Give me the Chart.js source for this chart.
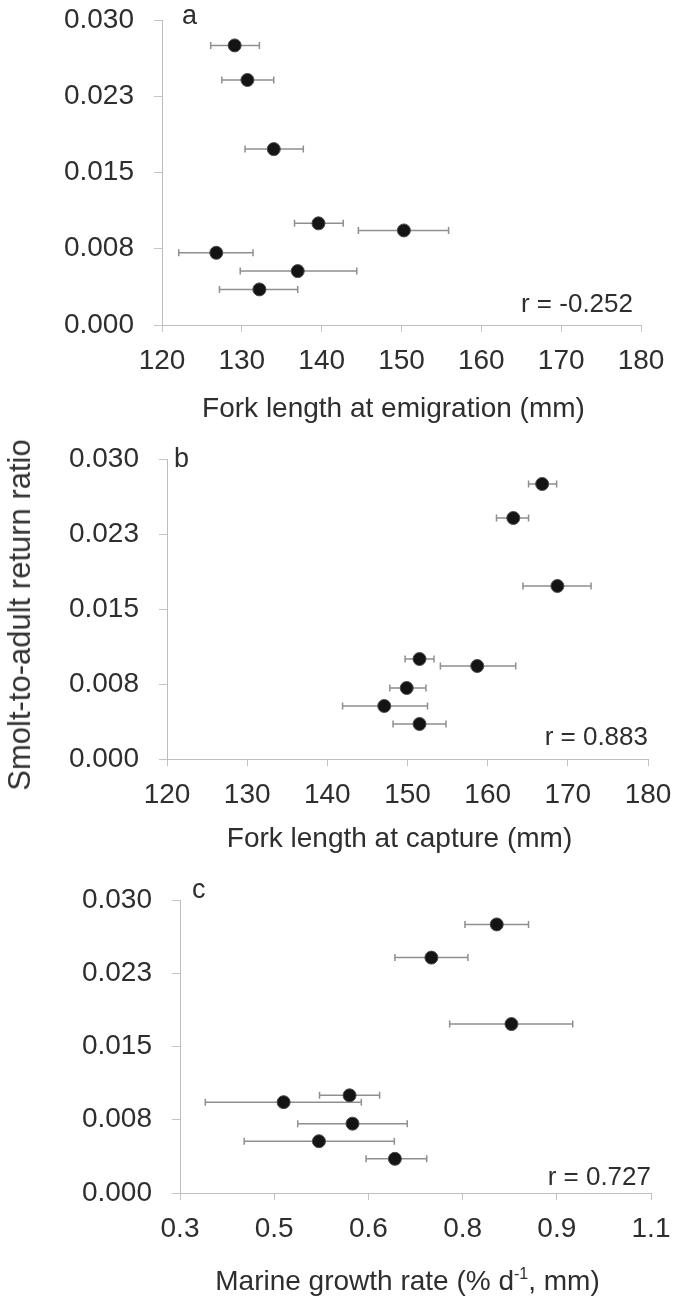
<!DOCTYPE html>
<html>
<head>
<meta charset="utf-8">
<script src="https://cdn.jsdelivr.net/npm/chart.js@4.4.1/dist/chart.umd.min.js"></script>
<style>
  body { margin: 0; background: #fff; }
  #wrap { position: relative; width: 677px; height: 1308px; overflow: hidden; }
  canvas { position: absolute; left: 0; }
  #ytitle {
    position: absolute; left: 20px; top: 615px;
    transform: translate(-50%, -50%) rotate(-90deg);
    white-space: nowrap;
    font: 31px "Liberation Sans", Arial, sans-serif; color: #333;
  }
</style>
</head>
<body>
<div id="wrap">
  <canvas id="chartA" width="677" height="440" style="top:0px"></canvas>
  <canvas id="chartB" width="677" height="430" style="top:440px"></canvas>
  <canvas id="chartC" width="677" height="438" style="top:870px"></canvas>
  <div id="ytitle">Smolt-to-adult return ratio</div>
</div>
<script>
// --- Data ---
// smolt-to-adult return ratio (same years in every panel)
const sarValues = [0.0275, 0.0241, 0.0173, 0.0100, 0.0093, 0.0071, 0.0053, 0.0035];
const yTickLabels = ['0.000', '0.008', '0.015', '0.023', '0.030'];

// a: fork length at emigration (mm), mean and error bar ends
const emigLength = [129.1, 130.7, 134.0, 139.6, 150.3, 126.8, 137.0, 132.2];
const emigLow    = [126.1, 127.5, 130.4, 136.6, 144.6, 122.1, 129.8, 127.2];
const emigHigh   = [132.2, 134.0, 137.7, 142.7, 155.9, 131.4, 144.4, 137.0];

// b: fork length at capture (mm)
const captLength = [166.8, 163.2, 168.7, 151.5, 158.7, 149.9, 147.1, 151.5];
const captLow    = [165.1, 161.1, 164.4, 149.7, 154.1, 147.8, 141.9, 148.2];
const captHigh   = [168.6, 165.1, 172.9, 153.3, 163.5, 152.3, 152.5, 154.8];

// c: marine growth rate (% d-1, mm)
const growthRate = [0.838, 0.727, 0.863, 0.588, 0.476, 0.593, 0.536, 0.665];
const growthLow  = [0.784, 0.665, 0.758, 0.537, 0.343, 0.500, 0.409, 0.616];
const growthHigh = [0.892, 0.789, 0.967, 0.639, 0.608, 0.686, 0.664, 0.719];
const growthTicks = ['0.3', '0.5', '0.6', '0.8', '0.9', '1.1'];

const FONT = '"Liberation Sans", Arial, sans-serif';
const TEXT = '#2e2e2e';

// --- Plugins ---
const errorBars = {
  id: 'errorBars',
  beforeDatasetsDraw(chart, args, opts) {
    const { ctx, scales: { x, y } } = chart;
    const pts = chart.data.datasets[0].data;
    ctx.save();
    ctx.strokeStyle = '#8f8f8f';
    ctx.lineWidth = 1.5;
    opts.low.forEach((lo, i) => {
      const py = y.getPixelForValue(pts[i].y);
      const x1 = x.getPixelForValue(lo);
      const x2 = x.getPixelForValue(opts.high[i]);
      ctx.beginPath();
      ctx.moveTo(x1, py); ctx.lineTo(x2, py);
      ctx.moveTo(x1, py - 3.5); ctx.lineTo(x1, py + 3.5);
      ctx.moveTo(x2, py - 3.5); ctx.lineTo(x2, py + 3.5);
      ctx.stroke();
    });
    ctx.restore();
  }
};

const panelText = {
  id: 'panelText',
  afterDraw(chart, args, opts) {
    const { ctx, chartArea: area } = chart;
    ctx.save();
    ctx.fillStyle = TEXT;
    ctx.textBaseline = 'alphabetic';

    // panel letter
    ctx.font = '27px ' + FONT;
    ctx.textAlign = 'left';
    ctx.fillText(opts.letter, area.left + opts.letterDx, area.top + opts.letterDy);

    // correlation
    ctx.font = '26px ' + FONT;
    ctx.textAlign = 'right';
    ctx.fillText(opts.rText, area.right + opts.rDx, area.bottom + opts.rDy);

    // x title, parts may be superscript
    const big = '28px ' + FONT, small = '16px ' + FONT;
    let total = 0;
    opts.xTitle.forEach(p => { ctx.font = p.sup ? small : big; total += ctx.measureText(p.text).width; });
    let tx = (area.left + area.right) / 2 - 8 - total / 2;
    const ty = area.bottom + opts.titleDy;
    ctx.textAlign = 'left';
    opts.xTitle.forEach(p => {
      ctx.font = p.sup ? small : big;
      ctx.fillText(p.text, tx, p.sup ? ty - 11 : ty);
      tx += ctx.measureText(p.text).width;
    });
    ctx.restore();
  }
};

// --- Chart builder ---
function makePanel(id, cfg) {
  const data = cfg.xs.map((v, i) => ({ x: v, y: sarValues[i] }));
  const axisGrid = { drawOnChartArea: false, drawTicks: true, tickLength: 7, color: '#c4c4c4' };
  const axisBorder = { display: true, color: '#bdbdbd', width: 1, dash: [2, 1] };

  return new Chart(document.getElementById(id), {
    type: 'scatter',
    data: {
      datasets: [{
        data: data,
        pointRadius: 6.5,
        pointHoverRadius: 6.5,
        pointBackgroundColor: '#141414',
        pointBorderColor: '#4a4a4a',
        pointBorderWidth: 1
      }]
    },
    options: {
      responsive: false,
      animation: false,
      layout: { padding: { left: 0, right: cfg.padRight, top: cfg.padTop, bottom: 0 } },
      scales: {
        x: {
          type: 'linear',
          min: cfg.xMin, max: cfg.xMax,
          ticks: {
            count: cfg.xCount,
            autoSkip: false,
            maxRotation: 0,
            padding: 12,
            color: TEXT,
            font: { family: FONT, size: 28 },
            callback: cfg.xLabels ? (v, i) => cfg.xLabels[i] : (v) => v
          },
          grid: axisGrid,
          border: axisBorder,
          afterFit(scale) {
            scale.height = cfg.xHeight;
            scale.paddingLeft = 0;
            scale.paddingRight = 0;
          }
        },
        y: {
          min: 0, max: 0.03,
          ticks: {
            count: 5,
            padding: 20,
            color: TEXT,
            font: { family: FONT, size: 28 },
            callback: (v, i) => yTickLabels[i]
          },
          grid: Object.assign({}, axisGrid, { tickLength: 8 }),
          border: axisBorder,
          afterFit(scale) {
            scale.width = cfg.yWidth;
            scale.paddingTop = 0;
            scale.paddingBottom = 0;
          }
        }
      },
      plugins: {
        legend: { display: false },
        tooltip: { enabled: false },
        errorBars: { low: cfg.low, high: cfg.high },
        panelText: cfg.text
      }
    },
    plugins: [errorBars, panelText]
  });
}

makePanel('chartA', {
  xs: emigLength, low: emigLow, high: emigHigh,
  xMin: 120, xMax: 180, xCount: 7,
  yWidth: 162, padRight: 36, padTop: 20, xHeight: 115,
  text: {
    letter: 'a', letterDx: 20, letterDy: 4,
    rText: 'r = -0.252', rDx: -8, rDy: -13,
    xTitle: [{ text: 'Fork length at emigration (mm)' }], titleDy: 92
  }
});

makePanel('chartB', {
  xs: captLength, low: captLow, high: captHigh,
  xMin: 120, xMax: 180, xCount: 7,
  yWidth: 167, padRight: 29, padTop: 19, xHeight: 111,
  text: {
    letter: 'b', letterDx: 7, letterDy: 8,
    rText: 'r = 0.883', rDx: 0, rDy: -14,
    xTitle: [{ text: 'Fork length at capture (mm)' }], titleDy: 88
  }
});

makePanel('chartC', {
  xs: growthRate, low: growthLow, high: growthHigh,
  xMin: 0.3, xMax: 1.1, xCount: 6, xLabels: growthTicks,
  yWidth: 180, padRight: 26, padTop: 30, xHeight: 115,
  text: {
    letter: 'c', letterDx: 12, letterDy: -2,
    rText: 'r = 0.727', rDx: 0, rDy: -8,
    xTitle: [{ text: 'Marine growth rate (% d' }, { text: '-1', sup: true }, { text: ', mm)' }], titleDy: 97
  }
});
</script>
</body>
</html>
